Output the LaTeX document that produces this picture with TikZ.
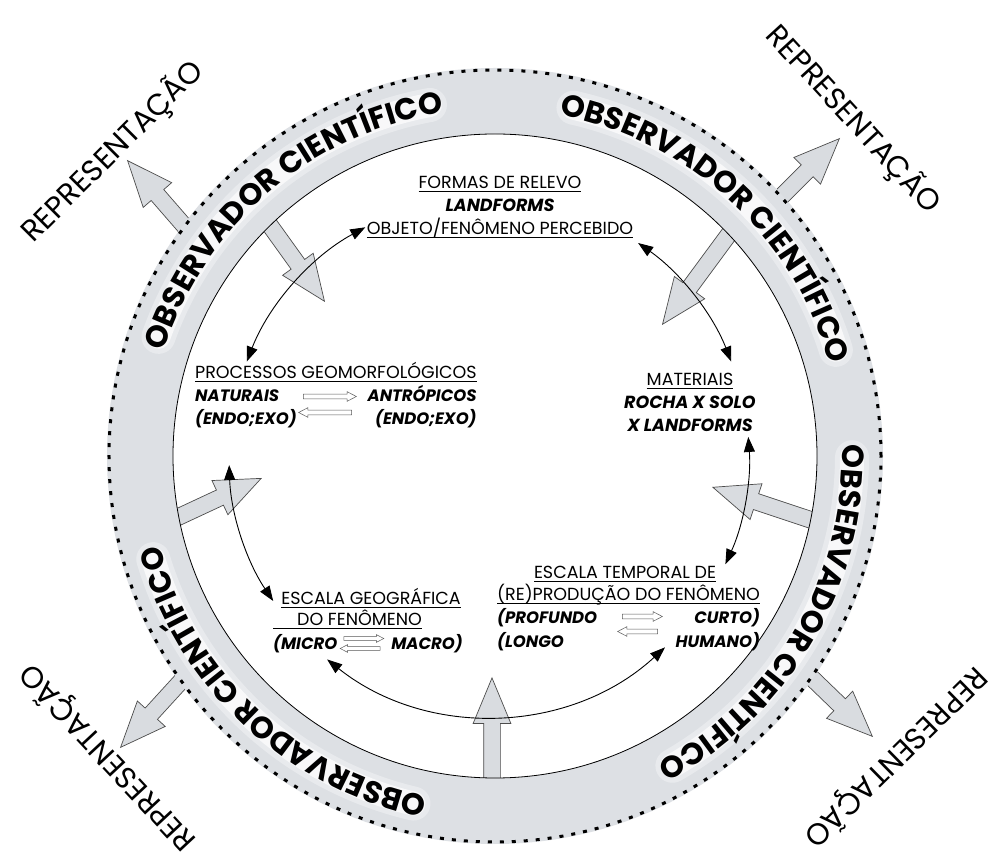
\documentclass[tikz,border=0pt]{standalone}
\usepackage{fontspec}
\setmainfont{Poppins}
\usetikzlibrary{shapes.arrows,arrows.meta,decorations.text,positioning,calc}

\definecolor{cinzaanel}{HTML}{DDE0E4}
\definecolor{cinzaseta}{HTML}{D9DCE0}

\newcommand{\sublinha}[1]{\setbox0\hbox{#1}\rlap{\rule[-3.5pt]{\wd0}{0.9pt}}\box0}
\newcommand{\anelfonte}{\fontsize{30.5}{30.5}\selectfont\bfseries}

\begin{document}
\begin{tikzpicture}[x=1pt, y=1pt]
\tikzset{
  seta/.style={single arrow, draw=black!70, fill=cinzaseta, line width=0.7pt, inner sep=0pt, inner ysep=8pt,
    single arrow head extend=10.5pt, single arrow tip angle=45, minimum height=#1},
  setinha/.style={single arrow, draw=black!65, fill=white, line width=0.5pt, inner sep=0pt, inner ysep=2.2pt,
    single arrow head extend=2.4pt, single arrow tip angle=55, minimum height=#1},
  titulo/.style={inner sep=0pt, font=\fontsize{17.5}{23}\selectfont},
  termo/.style={inner sep=0pt, font=\fontsize{16.5}{23}\selectfont\bfseries\itshape},
  rep/.style={inner sep=0pt, font=\fontsize{30}{30}\selectfont},
  ciclo/.style={{Triangle[length=15pt,width=11pt]}-{Triangle[length=15pt,width=11pt]}, line width=0.9pt},
}
\useasboundingbox (-495,-410) rectangle (503,456);
\fill[white] (-495,-410) rectangle (503,456);

\node[seta=120pt, rotate=131, anchor=tip] (saiTE) at (-368,296) {};
\node[seta=135pt, rotate=-54.3, anchor=tip] (entraTE) at (-170,154) {};
\node[seta=120pt, rotate=45, anchor=tip] (saiTD) at (345,318) {};
\node[seta=150pt, rotate=-126.4, anchor=tip] (entraTD) at (167,131) {};
\node[seta=140pt, rotate=161.6, anchor=tip] (entraD) at (217,-31) {};
\node[seta=120pt, rotate=-44, anchor=tip] (saiBD) at (378,-281) {};
\node[seta=135pt, rotate=90, anchor=tip] (entraB) at (-3,-221) {};
\node[seta=130pt, rotate=25, anchor=tip] (entraE) at (-233,-22) {};
\node[seta=125pt, rotate=-132.4, anchor=tip] (saiBE) at (-375,-292) {};

\fill[cinzaanel, even odd rule] (0,0) circle[radius=388] (0,0) circle[radius=322];
\draw[line width=0.8pt] (0,0) circle[radius=322];
\draw[line width=3pt, dash pattern=on 4pt off 8pt] (0,0) circle[radius=386];

\foreach \ang in {130.5,47.3,-30.2,-133.2}{
  \draw[white, line width=34pt, opacity=.35, line cap=round] (\ang+30:357) arc[start angle=\ang+30, end angle=\ang-30, radius=357];
  \draw[white, line width=24pt, opacity=.7, line cap=round] (\ang+30:357) arc[start angle=\ang+30, end angle=\ang-30, radius=357];
  \path[decorate, decoration={text along path, text align=center, text={|\anelfonte|OBSERVADOR CIENTÍFICO}}]
    (\ang+45:347) arc[start angle=\ang+45, end angle=\ang-45, radius=347];
}

\node[rep, rotate=45] (repTE) at (-382,304) {REPRESENTAÇÃO};
\node[rep, rotate=-47.5] (repTD) at (358,336) {REPRESENTAÇÃO};
\node[rep, rotate=133] (repBE) at (-387,-301) {REPRESENTAÇÃO};
\node[rep, rotate=224.5] (repBD) at (400,-301) {REPRESENTAÇÃO};

\node[titulo, align=center] (formas) at (5,249) {\sublinha{FORMAS DE RELEVO}\\ {\bfseries\itshape LANDFORMS}\\ \sublinha{OBJETO/FENÔMENO PERCEBIDO}};

\node[titulo, anchor=base west] (processos) at (-300,77.5) {\sublinha{PROCESSOS GEOMORFOLÓGICOS}};
\node[termo, anchor=base west] (naturais) at ([yshift=-23pt]processos.base west) {NATURAIS};
\node[termo, anchor=base east] (antropicos) at ([yshift=-23pt]processos.base east) {ANTRÓPICOS};
\node[termo, anchor=base west] (endoN) at ([yshift=-46pt]processos.base west) {(ENDO;EXO)};
\node[termo, anchor=base east] (endoA) at ([yshift=-46pt]processos.base east) {(ENDO;EXO)};
\node[setinha=53pt] (procIda) at (-167.5,59.5) {};
\node[setinha=53pt, rotate=180] (procVolta) at (-167.5,43.5) {};

\node[titulo, align=center] (materiais) at (195,54) {\sublinha{MATERIAIS}\\ {\bfseries\itshape ROCHA X SOLO}\\ {\bfseries\itshape X LANDFORMS}};

\node[titulo, anchor=base] (temporal) at (130,-122.5) {\sublinha{ESCALA TEMPORAL DE}};
\node[titulo, anchor=base west] (reproducao) at (2,-144.5) {\sublinha{(RE)PRODUÇÃO DO FENÔMENO}};
\node[termo, anchor=base west] (profundo) at ([yshift=-23pt]reproducao.base west) {(PROFUNDO};
\node[termo, anchor=base east] (curto) at ([yshift=-23pt]reproducao.base east) {CURTO)};
\node[termo, anchor=base west] (longo) at ([yshift=-47pt]reproducao.base west) {(LONGO};
\node[termo, anchor=base east] (humano) at ([yshift=-47pt]reproducao.base east) {HUMANO)};
\node[setinha=40pt] (tempIda) at (145,-160.5) {};
\node[setinha=40pt, rotate=180] (tempVolta) at (145,-175.5) {};

\node[titulo, anchor=base] (geografica) at (-124,-148.5) {\sublinha{ESCALA GEOGRÁFICA}};
\node[titulo, anchor=base west] (fenomeno) at (-222,-169.5) {\sublinha{\hspace*{24pt}DO FENÔMENO}};
\node[termo, anchor=base west] (micro) at (-222,-193.5) {(MICRO};
\node[termo, anchor=base east] (macro) at (-32,-193.5) {MACRO)};
\node[setinha=40pt, inner ysep=1.6pt, single arrow head extend=2pt] (geoIda) at (-133,-182.5) {};
\node[setinha=40pt, inner ysep=1.6pt, single arrow head extend=2pt, rotate=180] (geoVolta) at (-133,-192.5) {};

\coordinate (centro) at (-6,0);
\coordinate (p1) at ($(centro)+(158.7:260)$);
\coordinate (p2) at ($(centro)+(55:260)$);
\coordinate (p3) at ($(centro)+(4.2:260)$);
\coordinate (p4) at ($(centro)+(-47.4:260)$);
\coordinate (p5) at ($(centro)+(-146.1:260)$);
\draw[ciclo] (p1) arc[start angle=158.7, end angle=118.4, radius=260];
\draw[ciclo] (p2) arc[start angle=55, end angle=21.3, radius=260];
\draw[ciclo] (p3) arc[start angle=4.2, end angle=-24.6, radius=260];
\draw[ciclo] (p4) arc[start angle=-47.4, end angle=-128.5, radius=260];
\draw[ciclo] (p5) arc[start angle=-146.1, end angle=-178, radius=260];
\end{tikzpicture}
\end{document}
